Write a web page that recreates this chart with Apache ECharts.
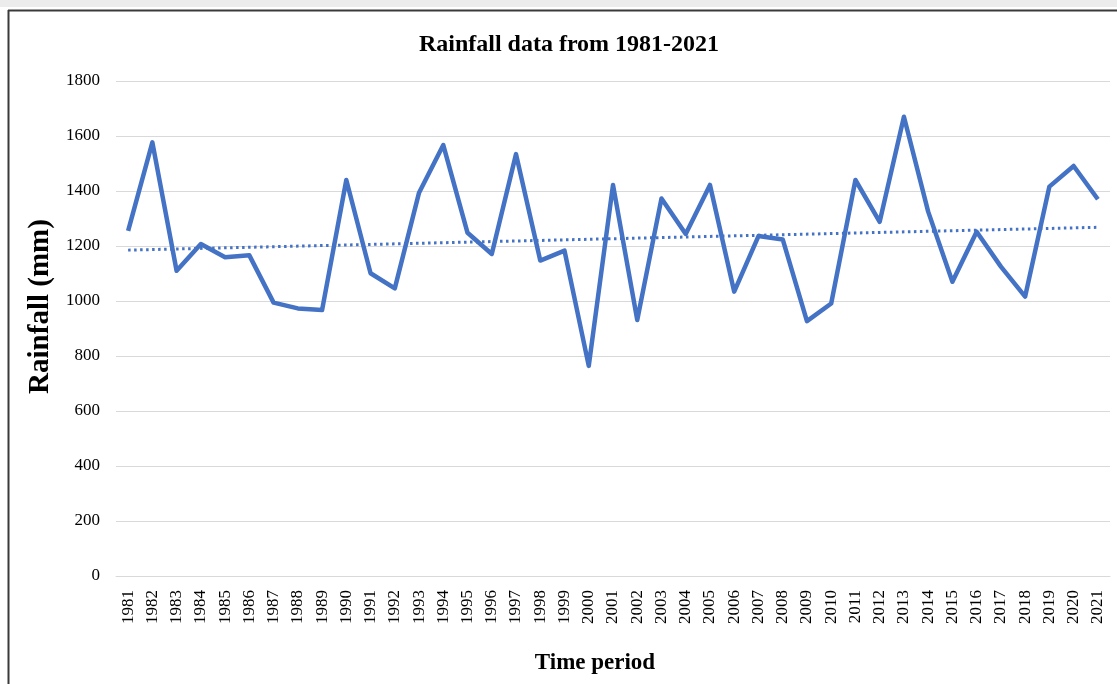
<!DOCTYPE html>
<html>
<head>
<meta charset="utf-8">
<style>html,body{margin:0;padding:0;background:#fff}#c{width:1117px;height:684px}</style>
<script src="https://cdn.jsdelivr.net/npm/echarts@6/dist/echarts.min.js"></script>
</head>
<body>
<div id="c"></div>
<script>
const years = ['1981','1982','1983','1984','1985','1986','1987','1988','1989','1990','1991','1992','1993','1994','1995','1996','1997','1998','1999','2000','2001','2002','2003','2004','2005','2006','2007','2008','2009','2010','2011','2012','2013','2014','2015','2016','2017','2018','2019','2020','2021'];
const rainfall = [1255,1577,1110,1207,1159,1166,994,973,967,1440,1101,1046,1394,1567,1248,1171,1534,1147,1183,764,1422,931,1373,1244,1422,1034,1236,1224,927,991,1440,1288,1670,1325,1070,1252,1125,1016,1416,1491,1370];
const trendStart = 1185;
const trendEnd = 1268;
const yTicks = {min: 0, max: 1800, interval: 200};

const chart = echarts.init(document.getElementById('c'), null, {renderer: 'canvas'});
const serif = 'Liberation Serif, Times New Roman, serif';
chart.setOption({
  backgroundColor: '#fff',
  animation: false,
  title: {
    text: 'Rainfall data from 1981-2021',
    left: 564, top: 28, textAlign: 'center',
    textStyle: {fontFamily: serif, fontSize: 24, fontWeight: 'bold', color: '#000'}
  },
  grid: {left: 116, right: 7, top: 81, bottom: 108},
  xAxis: {
    type: 'category', data: years, boundaryGap: true,
    name: 'Time period', nameLocation: 'middle', nameGap: 76,
    nameTextStyle: {fontFamily: serif, fontSize: 23, fontWeight: 'bold', color: '#000', padding: [0, 36, 0, 0]},
    axisLine: {show: true, lineStyle: {color: '#d9d9d9', width: 1}},
    axisTick: {show: false},
    axisLabel: {rotate: 90, interval: 0, margin: 14, fontFamily: serif, fontSize: 17, color: '#000'}
  },
  yAxis: {
    type: 'value', min: yTicks.min, max: yTicks.max, interval: yTicks.interval,
    name: 'Rainfall (mm)', nameLocation: 'middle', nameGap: 53,
    nameTextStyle: {fontFamily: serif, fontSize: 29, fontWeight: 'bold', color: '#000', padding: [0, 0, 0, 44]},
    axisLine: {show: false}, axisTick: {show: false},
    axisLabel: {margin: 16, fontFamily: serif, fontSize: 17, color: '#000', formatter: function (v) { return String(v); }},
    splitLine: {lineStyle: {color: '#d9d9d9', width: 1}}
  },
  series: [{
    type: 'line', data: rainfall, symbol: 'none',
    lineStyle: {color: '#4472C4', width: 4.5, join: 'round'},
    markLine: {
      silent: true, symbol: 'none', label: {show: false},
      lineStyle: {color: '#4472C4', width: 3, type: [2.5, 3.5], cap: 'butt'},
      data: [[{coord: [years[0], trendStart]}, {coord: [years[years.length - 1], trendEnd]}]]
    }
  }],
  graphic: [
    {type: 'rect', shape: {x: 0, y: 0, width: 1117, height: 7}, style: {fill: '#ececec'}, silent: true},
    {type: 'line', shape: {x1: 8, y1: 10.5, x2: 1117, y2: 10.5}, style: {stroke: '#3a3a3a', lineWidth: 2}, silent: true},
    {type: 'line', shape: {x1: 8.5, y1: 10, x2: 8.5, y2: 684}, style: {stroke: '#3a3a3a', lineWidth: 2}, silent: true}
  ]
});
</script>
</body>
</html>
